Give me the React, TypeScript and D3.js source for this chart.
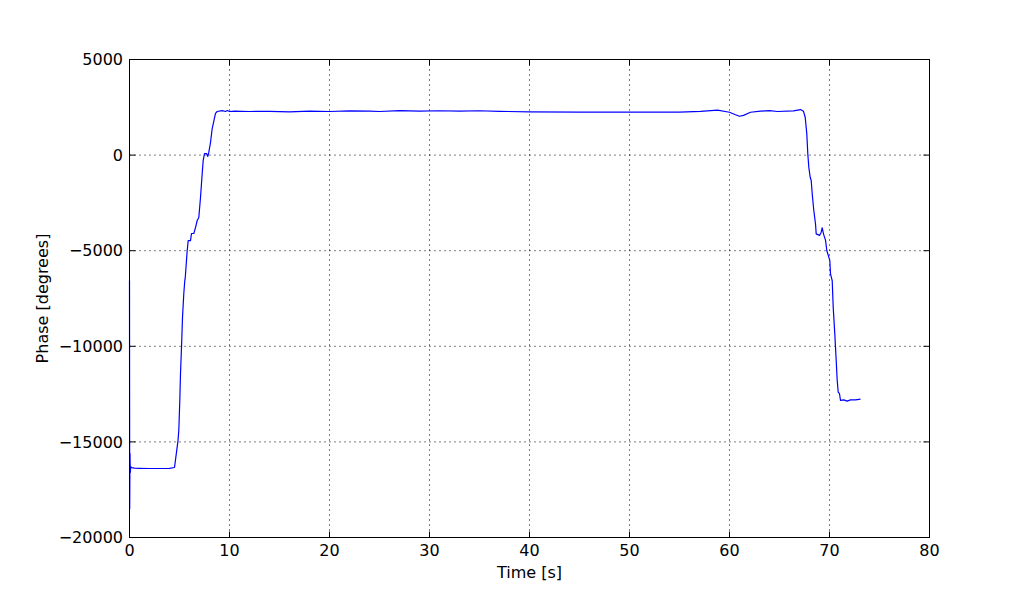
import React, { useEffect, useRef } from 'react';
import * as d3 from 'd3';

// time samples [s] and unwrapped phase [degrees]
const timeS = [
  0, 0.02, 0.05, 0.08, 0.12, 0.2, 0.5, 1.0, 2.0, 3.0, 4.0, 4.5,
  4.85, 4.93, 5.03, 5.1, 5.2, 5.3, 5.43, 5.53, 5.57, 5.77, 5.87, 6.1, 6.2, 6.43,
  6.6, 6.77, 6.93, 7.1, 7.27, 7.37, 7.5, 7.7, 7.83, 7.93, 8.1, 8.27, 8.6, 8.77,
  9.27, 9.6, 9.77, 10, 10.5, 12, 14, 16, 18, 20, 22, 24, 25, 27, 29, 31, 33, 35,
  37, 40, 45, 50, 55, 57.1, 58.8, 60, 60.6, 61.0, 61.4, 62.1, 63.1, 64, 64.8,
  66.4, 67.1, 67.4, 67.57, 67.73, 67.83, 67.93, 68.07, 68.17, 68.27, 68.43, 68.6,
  68.67, 69.0, 69.17, 69.27, 69.4, 69.5, 69.6, 69.73, 69.93, 70.03, 70.1, 70.27,
  70.37, 70.53, 70.67, 70.77, 70.87, 71.0, 71.1, 71.43, 71.77, 72.1, 72.6, 73.1,
];

const phaseDeg = [
  -6560, -18500, -15600, -16600, -16300, -16350, -16370, -16380, -16390, -16390, -16380, -16340,
  -14930, -14400, -12830, -11420, -10060, -8490, -7240, -6560, -6450, -4990, -4470, -4470, -4100, -4100,
  -3790, -3420, -3260, -2220, -960, -280, 80, 80, -70, 140, 660, 1390, 2180, 2280,
  2330, 2280, 2330, 2280, 2300, 2280, 2290, 2260, 2300, 2280, 2310, 2300, 2280, 2330, 2300, 2320, 2300, 2320,
  2290, 2260, 2250, 2250, 2250, 2290, 2350, 2240, 2110, 2030, 2080, 2240, 2300, 2330, 2280,
  2310, 2380, 2290, 1980, 1110, 70, -630, -1160, -1330, -2020, -2900, -3590,
  -4120, -4200, -4030, -3800, -4120, -4290, -4450, -4990, -5340, -5510, -6210, -6560,
  -7950, -9350, -10740, -11790, -12400, -12480, -12830, -12800, -12870, -12800, -12800, -12760,
];

const xTicks = [0, 10, 20, 30, 40, 50, 60, 70, 80];
const yTicks = [-20000, -15000, -10000, -5000, 0, 5000];

export default function App() {
  const svgRef = useRef<SVGSVGElement>(null);

  useEffect(() => {
    if (!svgRef.current) return;
    const svg = d3.select(svgRef.current);
    svg.selectAll('*').remove();

    const width = 1032;
    const height = 597;
    const margin = { top: 59, right: 103, bottom: 60, left: 129 };
    const font = 'DejaVu Sans, sans-serif';

    const x = d3.scaleLinear().domain([0, 80]).range([margin.left + 0.5, width - margin.right + 0.5]);
    const y = d3.scaleLinear().domain([-20000, 5000]).range([height - margin.bottom + 0.5, margin.top + 0.5]);

    svg.append('rect').attr('width', width).attr('height', height).attr('fill', '#fff');

    // dotted grid
    const grid = svg.append('g').attr('stroke', '#000').attr('stroke-width', 1)
      .attr('stroke-dasharray', '1,4');
    xTicks.slice(1, -1).forEach(t => {
      grid.append('line').attr('x1', x(t)).attr('x2', x(t)).attr('y1', y(5000)).attr('y2', y(-20000));
    });
    yTicks.slice(1, -1).forEach(v => {
      grid.append('line').attr('x1', x(0)).attr('x2', x(80)).attr('y1', y(v)).attr('y2', y(v));
    });

    // data line
    const pts = timeS.map((t, i) => [t, phaseDeg[i]] as [number, number]);
    const line = d3.line<[number, number]>().x(d => x(d[0])).y(d => y(d[1]));
    svg.append('path')
      .datum(pts)
      .attr('d', line)
      .attr('fill', 'none')
      .attr('stroke', '#0000ff')
      .attr('stroke-width', 1.2)
      .attr('stroke-linejoin', 'round');

    // frame
    svg.append('rect')
      .attr('x', x(0)).attr('y', y(5000))
      .attr('width', x(80) - x(0)).attr('height', y(-20000) - y(5000))
      .attr('fill', 'none').attr('stroke', '#000').attr('stroke-width', 1);

    // inward ticks on all four sides
    const tickLen = 6;
    const ticks = svg.append('g').attr('stroke', '#000').attr('stroke-width', 1);
    xTicks.forEach(t => {
      ticks.append('line').attr('x1', x(t)).attr('x2', x(t)).attr('y1', y(-20000)).attr('y2', y(-20000) - tickLen);
      ticks.append('line').attr('x1', x(t)).attr('x2', x(t)).attr('y1', y(5000)).attr('y2', y(5000) + tickLen);
    });
    yTicks.forEach(v => {
      ticks.append('line').attr('x1', x(0)).attr('x2', x(0) + tickLen).attr('y1', y(v)).attr('y2', y(v));
      ticks.append('line').attr('x1', x(80)).attr('x2', x(80) - tickLen).attr('y1', y(v)).attr('y2', y(v));
    });

    // tick labels
    const fmt = (v: number) => String(v).replace('-', '\u2212');
    svg.append('g').selectAll('text')
      .data(xTicks)
      .enter()
      .append('text')
      .attr('x', d => x(d))
      .attr('y', 556)
      .attr('text-anchor', 'middle')
      .attr('font-family', font)
      .attr('font-size', '16px')
      .attr('fill', '#000')
      .text(d => fmt(d));

    svg.append('g').selectAll('text')
      .data(yTicks)
      .enter()
      .append('text')
      .attr('x', 123)
      .attr('y', d => y(d))
      .attr('dy', '0.36em')
      .attr('text-anchor', 'end')
      .attr('font-family', font)
      .attr('font-size', '16px')
      .attr('fill', '#000')
      .text(d => fmt(d));

    // axis titles
    svg.append('text')
      .attr('x', (x(0) + x(80)) / 2)
      .attr('y', 578)
      .attr('text-anchor', 'middle')
      .attr('font-family', font)
      .attr('font-size', '16px')
      .text('Time [s]');

    svg.append('text')
      .attr('transform', `translate(48, ${(y(5000) + y(-20000)) / 2}) rotate(-90)`)
      .attr('text-anchor', 'middle')
      .attr('font-family', font)
      .attr('font-size', '16px')
      .text('Phase [degrees]');
  }, []);

  return (
    <div style={{ position: 'absolute', left: 0, top: 0 }}>
      <svg ref={svgRef} width={1032} height={597} style={{ display: 'block' }} />
    </div>
  );
}
